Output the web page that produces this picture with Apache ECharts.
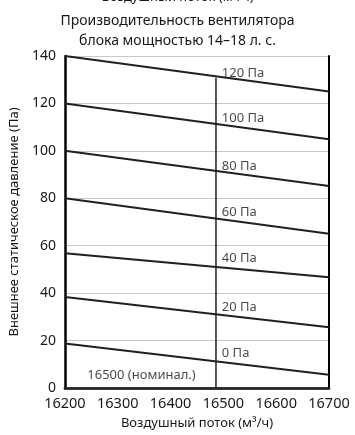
<!DOCTYPE html>
<html><head><meta charset="utf-8">
<script src="https://cdn.jsdelivr.net/npm/echarts@6/dist/echarts.min.js"></script>
<style>html,body{margin:0;padding:0;background:#fff}#c{width:355px;height:435px}</style>
</head><body><div id="c"></div>
<script>
const titleLines = ['Воздушный поток (м³/ч)', 'Производительность вентилятора', 'блока мощностью 14–18 л. с.'];
const xTicks = [16200, 16300, 16400, 16500, 16600, 16700];
const yTicks = [0, 20, 40, 60, 80, 100, 120, 140];
const curveNames = ['120 Па', '100 Па', '80 Па', '60 Па', '40 Па', '20 Па', '0 Па'];
const curveStartX = 16200;
const curveEndX = 16700;
const startValues = [140, 120, 100, 80, 56.8, 38.4, 18.8];
const endValues = [125, 104.9, 85.2, 65, 46.7, 25.6, 5.6];
const labelX = 16497;
const labelValues = [132.8, 113.9, 93.7, 73.9, 54.5, 33.9, 14.5];
const nominalX = 16486;
const nominalTop = 130.8;
const nominalText = '16500 (номинал.)';
const nominalTextX = 16345;
const nominalTextY = 5.3;
const xName = 'Воздушный поток (м³/ч)';
const yName = 'Внешнее статическое давление (Па)';

const FONT = 'Noto Sans';
const INK = '#1a1718';

const series = [];
curveNames.forEach((n, i) => {
  series.push({
    type: 'line', name: n, silent: true, symbol: 'none', animation: false,
    data: [[curveStartX, startValues[i]], [curveEndX, endValues[i]]],
    lineStyle: { color: '#231f20', width: 2 }, z: 5
  });
});
series.push({
  type: 'line', symbol: 'none', animation: false,
  data: [[nominalX, 0], [nominalX, nominalTop]],
  lineStyle: { color: '#231f20', width: 1.5 }, z: 4
});
series.push({
  type: 'scatter', symbolSize: 0, animation: false,
  data: curveNames.map((n, i) => ({ name: n, value: [labelX, labelValues[i]] })),
  label: { show: true, position: 'right', distance: 0, formatter: p => p.name,
    color: INK, fontFamily: FONT, fontSize: 13 }, z: 6
});
series.push({
  type: 'scatter', symbolSize: 0, animation: false,
  data: [{ name: nominalText, value: [nominalTextX, nominalTextY] }],
  label: { show: true, position: 'inside', formatter: p => p.name,
    color: INK, fontFamily: FONT, fontSize: 13 }, z: 6
});

const chart = echarts.init(document.getElementById('c'), null, { renderer: 'canvas' });
chart.setOption({
  backgroundColor: '#fff',
  animation: false,
  graphic: [
    { type: 'text', left: 'center', top: -9, style: { text: titleLines[0], font: '13px "' + FONT + '"', fill: INK } },
    { type: 'text', left: 'center', top: 14, style: { text: titleLines[1], font: '14px "' + FONT + '"', fill: INK } },
    { type: 'text', left: 'center', top: 34, style: { text: titleLines[2], font: '14px "' + FONT + '"', fill: INK } }
  ],
  grid: { left: 64, right: 26, top: 56, bottom: 46.5 },
  xAxis: [{
    type: 'value', min: 16200, max: 16700, interval: 100,
    name: xName, nameLocation: 'middle', nameGap: 29,
    nameTextStyle: { color: INK, fontFamily: FONT, fontSize: 13 },
    axisLine: { show: true, onZero: false, lineStyle: { color: '#000', width: 2.5 } },
    axisTick: { show: false },
    axisLabel: { color: INK, fontFamily: FONT, fontSize: 14.5, margin: 8, formatter: v => String(v) },
    splitLine: { show: false }
  }, {
    type: 'value', position: 'top', min: 16200, max: 16700,
    axisLine: { show: true, lineStyle: { color: '#333', width: 1.5 } },
    axisTick: { show: false }, axisLabel: { show: false }, splitLine: { show: false }
  }],
  yAxis: [{
    type: 'value', min: 0, max: 140, interval: 20,
    name: yName, nameLocation: 'middle', nameGap: 41,
    nameTextStyle: { color: INK, fontFamily: FONT, fontSize: 13 },
    axisLine: { show: true, onZero: false, lineStyle: { color: '#000', width: 2.5 } },
    axisTick: { show: false },
    axisLabel: { color: INK, fontFamily: FONT, fontSize: 14, margin: 9 },
    splitLine: { show: true, lineStyle: { color: '#c8c8c8', width: 1 } }
  }, {
    type: 'value', position: 'right', min: 0, max: 140,
    axisLine: { show: true, lineStyle: { color: '#000', width: 2 } },
    axisTick: { show: false }, axisLabel: { show: false }, splitLine: { show: false }
  }],
  series: series
});
</script>
</body></html>
